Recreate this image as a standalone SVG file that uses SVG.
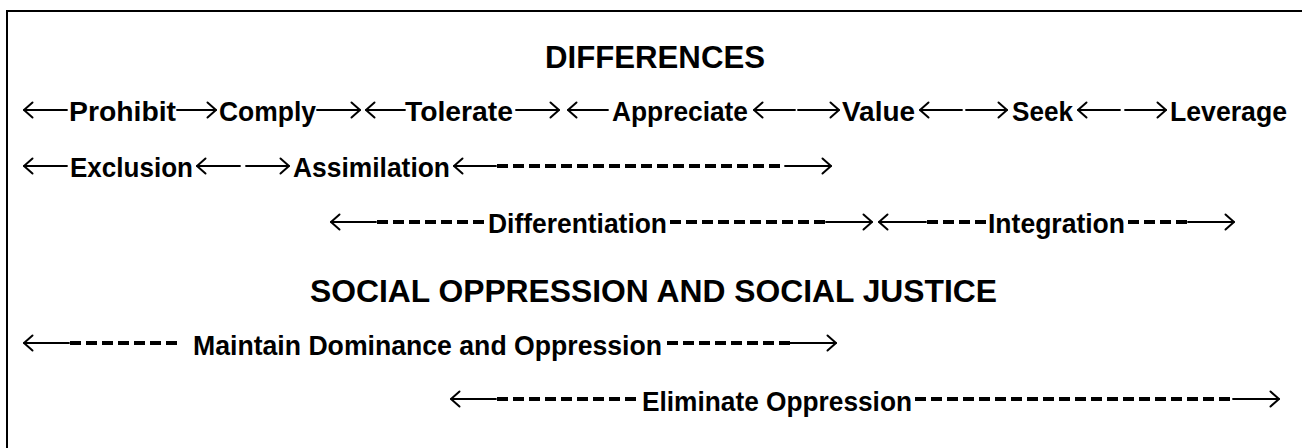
<svg xmlns="http://www.w3.org/2000/svg" width="1302" height="448" viewBox="0 0 1302 448">
  <style>
    text { font-family: "Liberation Sans", Arial, sans-serif; font-weight: bold; fill: #000; }
    .title { font-size: 31px; }
    .lbl { font-size: 27px; }
    .arr { fill: none; stroke: #000; stroke-width: 1.8; stroke-linecap: round; stroke-linejoin: round; }
    .dash { fill: none; stroke: #000; stroke-width: 4.2; stroke-dasharray: 11 5; }
  </style>
  <defs>
    <!-- open chevron head, drawn at the line end -->
    <marker id="head" markerUnits="userSpaceOnUse" markerWidth="14" markerHeight="20" refX="10" refY="9" orient="auto-start-reverse" viewBox="0 0 14 20">
      <path d="M1.5,1.5 L10,9 L1.5,16.5" fill="none" stroke="#000" stroke-width="2" stroke-linecap="round" stroke-linejoin="round"/>
    </marker>
  </defs>
  <rect width="1302" height="448" fill="#fff"/>

  <!-- frame: left and top edges -->
  <path d="M7,448 V11 H1302" fill="none" stroke="#000" stroke-width="2"/>

  <g id="title-differences"><text class="title" x="545" y="68" textLength="220" lengthAdjust="spacingAndGlyphs">DIFFERENCES</text></g>

  <!-- row: compliance stages -->
  <g id="prohibit"><text class="lbl" x="69" y="121" textLength="107" lengthAdjust="spacingAndGlyphs">Prohibit</text></g>
  <g id="comply"><text class="lbl" x="219" y="121" textLength="97" lengthAdjust="spacingAndGlyphs">Comply</text></g>
  <g id="tolerate"><text class="lbl" x="405" y="121" textLength="108" lengthAdjust="spacingAndGlyphs">Tolerate</text></g>
  <g id="appreciate"><text class="lbl" x="612" y="121" textLength="136" lengthAdjust="spacingAndGlyphs">Appreciate</text></g>
  <g id="value"><text class="lbl" x="842" y="121" textLength="73" lengthAdjust="spacingAndGlyphs">Value</text></g>
  <g id="seek"><text class="lbl" x="1012" y="121" textLength="61" lengthAdjust="spacingAndGlyphs">Seek</text></g>
  <g id="leverage"><text class="lbl" x="1170" y="121" textLength="117" lengthAdjust="spacingAndGlyphs">Leverage</text></g>

  <!-- row: exclusion / assimilation -->
  <g id="exclusion"><text class="lbl" x="70" y="177" textLength="123" lengthAdjust="spacingAndGlyphs">Exclusion</text></g>
  <g id="assimilation"><text class="lbl" x="293" y="177" textLength="157" lengthAdjust="spacingAndGlyphs">Assimilation</text></g>

  <!-- row: differentiation / integration -->
  <g id="differentiation"><text class="lbl" x="488" y="233" textLength="179" lengthAdjust="spacingAndGlyphs">Differentiation</text></g>
  <g id="integration"><text class="lbl" x="988" y="233" textLength="137" lengthAdjust="spacingAndGlyphs">Integration</text></g>

  <g id="title-social"><text class="title" x="310" y="302" textLength="687" lengthAdjust="spacingAndGlyphs">SOCIAL OPPRESSION AND SOCIAL JUSTICE</text></g>

  <g id="maintain"><text class="lbl" x="193" y="355" textLength="469" lengthAdjust="spacingAndGlyphs">Maintain Dominance and Oppression</text></g>
  <g id="eliminate"><text class="lbl" x="642" y="411" textLength="270" lengthAdjust="spacingAndGlyphs">Eliminate Oppression</text></g>

  <g id="connectors">
    <!-- row 1 arrows (y=110) -->
    <line class="arr" x1="67" y1="110" x2="24" y2="110" marker-end="url(#head)"/>
    <line class="arr" x1="177" y1="110" x2="216" y2="110" marker-end="url(#head)"/>
    <line class="arr" x1="317" y1="110" x2="360" y2="110" marker-end="url(#head)"/>
    <line class="arr" x1="405" y1="110" x2="366" y2="110" marker-end="url(#head)"/>
    <line class="arr" x1="516" y1="110" x2="559" y2="110" marker-end="url(#head)"/>
    <line class="arr" x1="608" y1="110" x2="568" y2="110" marker-end="url(#head)"/>
    <line class="arr" x1="795" y1="110" x2="754" y2="110" marker-end="url(#head)"/>
    <line class="arr" x1="798" y1="110" x2="839" y2="110" marker-end="url(#head)"/>
    <line class="arr" x1="962" y1="110" x2="920" y2="110" marker-end="url(#head)"/>
    <line class="arr" x1="966" y1="110" x2="1007" y2="110" marker-end="url(#head)"/>
    <line class="arr" x1="1120" y1="110" x2="1078" y2="110" marker-end="url(#head)"/>
    <line class="arr" x1="1125" y1="110" x2="1166" y2="110" marker-end="url(#head)"/>

    <!-- row 2 (y=166) -->
    <line class="arr" x1="67" y1="166" x2="24" y2="166" marker-end="url(#head)"/>
    <line class="arr" x1="240" y1="166" x2="197" y2="166" marker-end="url(#head)"/>
    <line class="arr" x1="246" y1="166" x2="289" y2="166" marker-end="url(#head)"/>
    <line class="arr" x1="496" y1="166" x2="454" y2="166" marker-end="url(#head)"/>
    <line class="dash" x1="497" y1="166" x2="780" y2="166"/>
    <line class="arr" x1="785" y1="166" x2="831" y2="166" marker-end="url(#head)"/>

    <!-- row 3 (y=222) -->
    <line class="arr" x1="376" y1="222" x2="331" y2="222" marker-end="url(#head)"/>
    <line class="dash" x1="377" y1="222" x2="484" y2="222"/>
    <line class="dash" x1="670" y1="222" x2="825" y2="222"/>
    <line class="arr" x1="826" y1="222" x2="872" y2="222" marker-end="url(#head)"/>
    <line class="arr" x1="926" y1="222" x2="879" y2="222" marker-end="url(#head)"/>
    <line class="dash" x1="927" y1="222" x2="986" y2="222"/>
    <line class="dash" x1="1128" y1="222" x2="1187" y2="222"/>
    <line class="arr" x1="1188" y1="222" x2="1234" y2="222" marker-end="url(#head)"/>

    <!-- dominance row (y=343) -->
    <line class="arr" x1="69" y1="343" x2="24" y2="343" marker-end="url(#head)"/>
    <line class="dash" x1="70" y1="343" x2="177" y2="343"/>
    <line class="dash" x1="667" y1="343" x2="790" y2="343"/>
    <line class="arr" x1="790" y1="343" x2="836" y2="343" marker-end="url(#head)"/>

    <!-- elimination row (y=399) -->
    <line class="arr" x1="496" y1="399" x2="451" y2="399" marker-end="url(#head)"/>
    <line class="dash" x1="497" y1="399" x2="636" y2="399"/>
    <line class="dash" x1="915" y1="399" x2="1234" y2="399"/>
    <line class="arr" x1="1233" y1="399" x2="1279" y2="399" marker-end="url(#head)"/>
  </g>
</svg>
